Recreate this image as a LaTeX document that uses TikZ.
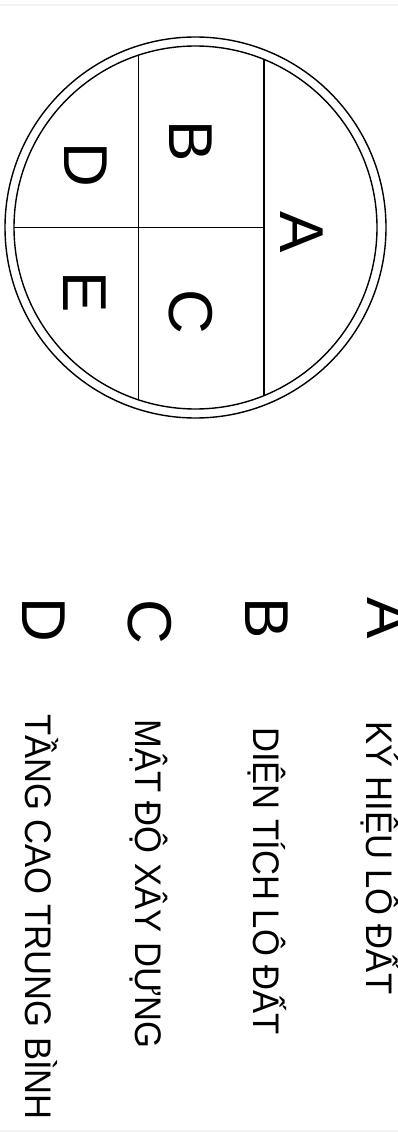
\documentclass[tikz,border=0pt]{standalone}
\usepackage{fontspec}
\setmainfont{Liberation Sans}
\newfontfamily\legendfont[FakeStretch=0.935]{Liberation Sans}
\begin{document}
\begin{tikzpicture}[x=1pt,y=-1pt,
  ring/.style={circle,draw,line width=1.4pt,inner sep=0pt},
  divider/.style={line width=1.4pt},
  cellletter/.style={rotate=-90,inner sep=0pt,anchor=center,font=\fontsize{62}{62}\selectfont},
  keyletter/.style={rotate=-90,inner sep=0pt,anchor=base west,font=\fontsize{62}{62}\selectfont},
  keytext/.style={rotate=-90,inner sep=0pt,anchor=base west,font=\legendfont\fontsize{37}{40}\selectfont},
  faint/.style={draw=black!5,line width=1.2pt}]
\useasboundingbox (0,0) rectangle (398,1134);
\fill[white] (0,0) rectangle (398,1134);
\coordinate (tl) at (0,5);
\coordinate (tr) at (398,5);
\draw[faint] (tl) -- (tr);
\coordinate (bl) at (0,1131);
\coordinate (br) at (398,1131);
\draw[faint] (bl) -- (br);
% symbol circle
\node[ring,minimum size=381pt] (outer) at (195.5,227.5) {};
\node[ring,minimum size=363pt] (inner) at (195.5,227.5) {};
\coordinate (v1t) at (264,59.4);
\coordinate (v1b) at (264,395.6);
\coordinate (v2t) at (138.5,55.2);
\coordinate (v2b) at (138.5,399.8);
\coordinate (hl) at (14,227.7);
\coordinate (hr) at (264,227.7);
\draw[divider] (v1t) -- (v1b);
\draw[divider] (v2t) -- (v2b);
\draw[divider] (hl) -- (hr);
\node[cellletter] (cA) at (302,232) {A};
\node[cellletter] (cB) at (191,141) {B};
\node[cellletter] (cC) at (191,312) {C};
\node[cellletter] (cD) at (86,165) {D};
\node[cellletter] (cE) at (85,292) {E};
% legend
\node[keyletter] (kA) at (367,597) {A};
\node[keyletter] (kB) at (245,597) {B};
\node[keyletter] (kC) at (128,599) {C};
\node[keyletter] (kD) at (22,597) {D};
\node[keytext] (tA) at (366,721) {KÝ HIỆU LÔ ĐẤT};
\node[keytext] (tB) at (253,727) {DIỆN TÍCH LÔ ĐẤT};
\node[keytext] (tC) at (135,719) {MẬT ĐỘ XÂY DỰNG};
\node[keytext] (tD) at (25,714) {TẦNG CAO TRUNG BÌNH};
\end{tikzpicture}
\end{document}
